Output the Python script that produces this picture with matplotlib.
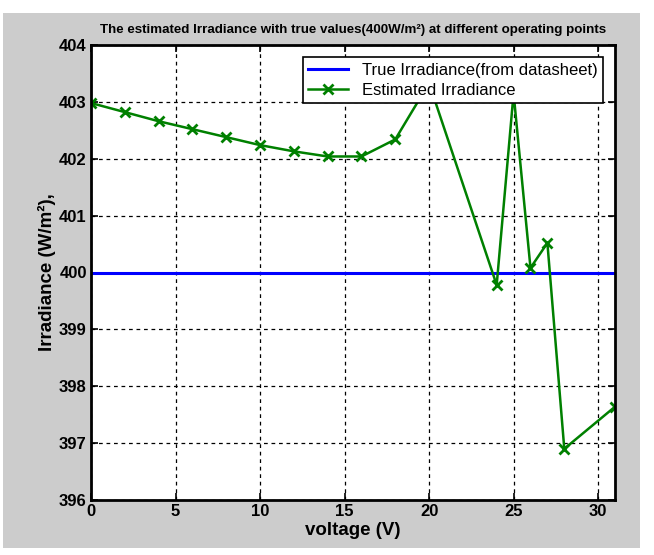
import matplotlib
matplotlib.use('Agg')
import matplotlib.pyplot as plt
from matplotlib.patches import Rectangle

# operating points (voltage) and estimated irradiance
voltage = [0, 2, 4, 6, 8, 10, 12, 14, 16, 18, 20, 24, 25, 26, 27, 28, 31]
estimated = [402.98, 402.82, 402.66, 402.52, 402.38, 402.24, 402.13, 402.04, 402.04,
             402.34, 403.33, 399.78, 403.15, 400.08, 400.52, 396.9, 397.64]
true_x = [0, 31]
true_irr = [400, 400]

xticks = [0, 5, 10, 15, 20, 25, 30]
yticks = [396, 397, 398, 399, 400, 401, 402, 403, 404]

plt.rcParams['font.family'] = ['Liberation Sans', 'DejaVu Sans']

fig = plt.figure(figsize=(6.54, 5.55), dpi=100, facecolor='white')
fig.patches.append(Rectangle((3 / 654, 1 - 548 / 555), 637 / 654, 535 / 555,
                             transform=fig.transFigure, facecolor='#cccccc',
                             edgecolor='none', zorder=-10))
ax = fig.add_axes([91 / 654, 1 - 500 / 555, 524 / 654, 455 / 555])
ax.set_facecolor('white')

ax.plot(true_x, true_irr, color='#0000ff', lw=2.2, label='True Irradiance(from datasheet)')
ax.plot(voltage, estimated, color='#008000', lw=1.8, marker='x', ms=7, mew=2,
        label='Estimated Irradiance')

ax.set_xlim(0, 31)
ax.set_ylim(396, 404)
ax.set_xticks(xticks)
ax.set_yticks(yticks)
ax.tick_params(direction='in', top=True, right=True, length=5, width=1.2,
               labelsize=12, pad=3)
for lab in ax.get_xticklabels() + ax.get_yticklabels():
    lab.set_fontweight('bold')
ax.grid(True, color='black', linestyle=(0, (3, 3)), lw=0.9)
for s in ax.spines.values():
    s.set_linewidth(2)

ax.set_xlabel('voltage (V)', fontsize=13.5, fontweight='bold', labelpad=2)
ax.set_ylabel('Irradiance (W/m²),', fontsize=13.5, fontweight='bold', labelpad=2)
ax.set_title('The estimated Irradiance with true values(400W/m²) at different operating points',
             fontsize=9.6, fontweight='bold', pad=9)

leg = ax.legend(loc='upper right', fontsize=12, fancybox=False, framealpha=1,
                edgecolor='black', borderaxespad=0.7, handlelength=2.4,
                borderpad=0.35, labelspacing=0.3)
leg.get_frame().set_linewidth(1.2)

fig.savefig('out.png', dpi=100, facecolor=fig.get_facecolor())
